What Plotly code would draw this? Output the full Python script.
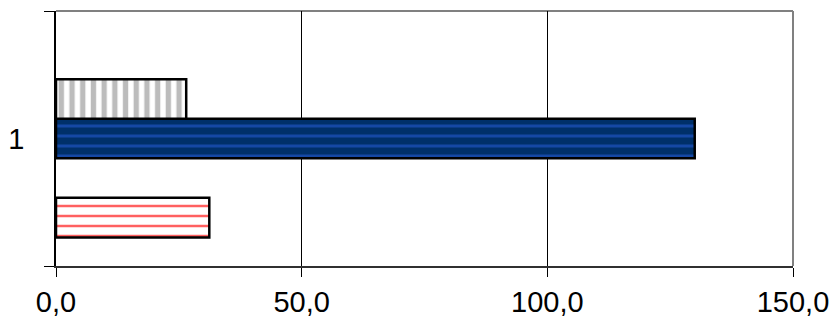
import plotly.graph_objects as go

categories = ["1"]
# series in Excel order (first series drawn at bottom)
s1_values = [31.2]   # red wavy
s2_values = [None]   # empty slot
s3_values = [130.0]  # blue striped
s4_values = [26.5]   # grey vertical stripes
s5_values = [None]   # empty slot
x_tickvals = [0, 50, 100, 150]
x_ticktext = ["0,0", "50,0", "100,0", "150,0"]

fig = go.Figure()
outline = dict(color="black", width=2.5)
fig.add_trace(go.Bar(y=categories, x=s1_values, orientation="h",
                     marker=dict(color="white", line=outline,
                                 pattern=dict(shape="-", fgcolor="#ff2a2a", bgcolor="white",
                                              size=10, solidity=0.25, fgopacity=0.75))))
fig.add_trace(go.Bar(y=categories, x=s2_values, orientation="h",
                     marker=dict(color="white", line=outline)))
fig.add_trace(go.Bar(y=categories, x=s3_values, orientation="h",
                     marker=dict(color="#00306a", line=outline,
                                 pattern=dict(shape="-", fgcolor="#2a5fe0", bgcolor="#00306a",
                                              size=10, solidity=0.3))))
fig.add_trace(go.Bar(y=categories, x=s4_values, orientation="h",
                     marker=dict(color="white", line=outline,
                                 pattern=dict(shape="|", fgcolor="#7a7a7a", bgcolor="white",
                                              size=10.7, solidity=0.5))))
fig.add_trace(go.Bar(y=categories, x=s5_values, orientation="h",
                     marker=dict(color="white", line=outline)))

# the page body adds an 8px offset, so the figure is sized/margined to compensate
fig.update_layout(
    width=830, height=314,
    margin=dict(l=48, r=45, t=3, b=56),
    paper_bgcolor="white", plot_bgcolor="white",
    barmode="group", bargap=0.224, bargroupgap=0,
    showlegend=False,
    font=dict(family="Liberation Sans, Arial, sans-serif", size=29, color="black"),
    xaxis=dict(range=[0, 150], tickvals=x_tickvals, ticktext=x_ticktext,
               showgrid=True, gridcolor="black", gridwidth=1,
               showline=True, linecolor="#303030", linewidth=2,
               ticks="outside", ticklen=9, tickcolor="black", tickwidth=1,
               zeroline=False, fixedrange=True, automargin=False),
    yaxis=dict(type="category", showline=True, linecolor="black", linewidth=1.5,
               ticks="outside", ticklen=10, tickcolor="black", tickwidth=1,
               tickson="boundaries", showgrid=False, ticklabelstandoff=24,
               fixedrange=True, automargin=False),
    shapes=[
        dict(type="line", xref="paper", yref="paper", x0=0, x1=1, y0=1, y1=1,
             line=dict(color="#808080", width=2), layer="below"),
        dict(type="line", xref="paper", yref="paper", x0=1, x1=1, y0=0, y1=1,
             line=dict(color="#808080", width=2), layer="below"),
    ],
)

fig.write_html("out.html")
